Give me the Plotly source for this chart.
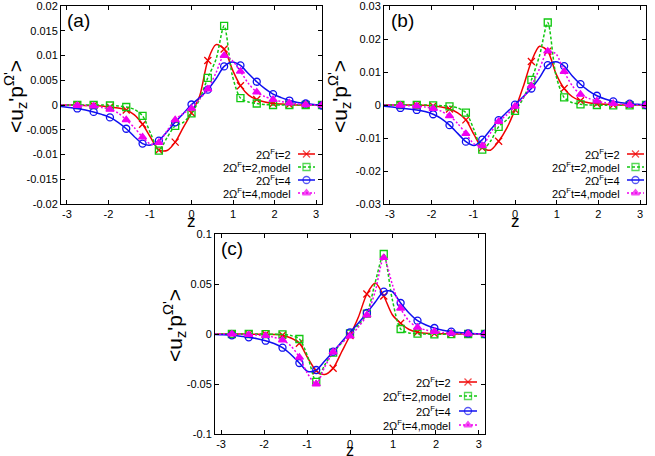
import plotly.graph_objects as go

# z sample grid (k*pi/16, k=-16..16); markers are drawn every other sample from -7pi/8
z_grid = [-3.1416, -2.9452, -2.7489, -2.5525, -2.3562, -2.1598, -1.9635, -1.7671,
          -1.5708, -1.3744, -1.1781, -0.9817, -0.7854, -0.5890, -0.3927, -0.1963,
          0.0,
          0.1963, 0.3927, 0.5890, 0.7854, 0.9817, 1.1781, 1.3744, 1.5708,
          1.7671, 1.9635, 2.1598, 2.3562, 2.5525, 2.7489, 2.9452, 3.1416]

series_names = ["2Ω<sup>F</sup>t=2", "2Ω<sup>F</sup>t=2,model",
                "2Ω<sup>F</sup>t=4", "2Ω<sup>F</sup>t=4,model"]

# ---- panel (a)
a_t2 = [0.0, 0.0, 0.0, -0.0001, -0.0001, -0.0002, -0.0004, -0.0006,
        -0.0010, -0.0020, -0.0039, -0.0066, -0.0091, -0.0092, -0.0075, -0.0045,
        -0.0016,
        0.0018, 0.0090, 0.0122, 0.0113, 0.0072, 0.0039, 0.0020, 0.0011,
        0.0006, 0.0003, 0.0002, 0.0001, 0.0, 0.0, 0.0, 0.0]
a_t2m = [0.0, 0.0, 0.0, 0.0, 0.0, 0.0, -0.0001, -0.0002,
         -0.0004, -0.0009, -0.0022, -0.0058, -0.0092, -0.0066, -0.0042, -0.0035,
         -0.0017,
         0.0012, 0.0055, 0.0092, 0.0160, 0.0060, 0.0014, 0.0006, 0.0003,
         0.0001, 0.0, 0.0, 0.0, 0.0, 0.0, 0.0, 0.0]
a_t4 = [-0.0003, -0.0005, -0.0007, -0.0010, -0.0014, -0.0019, -0.0025, -0.0035,
        -0.0048, -0.0064, -0.0078, -0.0081, -0.0072, -0.0054, -0.0035, -0.0017,
        0.0001,
        0.0015, 0.0031, 0.0053, 0.0078, 0.0087, 0.0080, 0.0063, 0.0047,
        0.0033, 0.0022, 0.0015, 0.0009, 0.0005, 0.0003, 0.0001, -0.0001]
a_t4m = [0.0, 0.0, -0.0001, -0.0001, -0.0002, -0.0005, -0.0009, -0.0016,
         -0.0030, -0.0046, -0.0065, -0.0079, -0.0076, -0.0052, -0.0030, -0.0017,
         -0.0007,
         0.0012, 0.0032, 0.0065, 0.0100, 0.0090, 0.0068, 0.0043, 0.0026,
         0.0017, 0.0011, 0.0007, 0.0004, 0.0002, 0.0001, 0.0, 0.0]

# ---- panel (b)
b_t2 = [0.0, 0.0, 0.0, 0.0, -0.0001, -0.0001, -0.0003, -0.0006,
        -0.0012, -0.0024, -0.0045, -0.0090, -0.0130, -0.0137, -0.0110, -0.0070,
        -0.0014,
        0.0055, 0.0132, 0.0178, 0.0163, 0.0095, 0.0050, 0.0025, 0.0013,
        0.0007, 0.0004, 0.0002, 0.0001, 0.0, 0.0, 0.0, 0.0]
b_t2m = [0.0, 0.0, 0.0, 0.0, 0.0, 0.0, -0.0001, -0.0002,
         -0.0004, -0.0009, -0.0023, -0.0075, -0.0135, -0.0110, -0.0066, -0.0045,
         -0.0018,
         0.0020, 0.0076, 0.0150, 0.0250, 0.0090, 0.0023, 0.0007, 0.0002,
         0.0, 0.0, -0.0001, -0.0001, -0.0001, -0.0001, 0.0, 0.0]
b_t4 = [-0.0004, -0.0006, -0.0009, -0.0012, -0.0015, -0.0020, -0.0028, -0.0041,
        -0.0061, -0.0086, -0.0111, -0.0123, -0.0105, -0.0075, -0.0046, -0.0022,
        0.0001,
        0.0025, 0.0050, 0.0083, 0.0121, 0.0131, 0.0118, 0.0088, 0.0063,
        0.0043, 0.0028, 0.0018, 0.0011, 0.0007, 0.0004, 0.0002, 0.0]
b_t4m = [0.0, 0.0, -0.0001, -0.0002, -0.0003, -0.0006, -0.0011, -0.0019,
         -0.0033, -0.0056, -0.0087, -0.0118, -0.0124, -0.0085, -0.0050, -0.0030,
         -0.0004,
         0.0022, 0.0058, 0.0110, 0.0163, 0.0155, 0.0101, 0.0058, 0.0032,
         0.0020, 0.0012, 0.0007, 0.0004, 0.0002, 0.0001, 0.0, 0.0]

# ---- panel (c)
c_t2 = [0.0, 0.0, 0.0, 0.0, -0.0001, -0.0002, -0.0003, -0.0005,
        -0.0012, -0.0040, -0.0093, -0.0240, -0.0367, -0.0405, -0.0343, -0.0180,
        -0.0015,
        0.0170, 0.0400, 0.0510, 0.0380, 0.0195, 0.0107, 0.0045, 0.0017,
        0.0008, 0.0004, 0.0002, 0.0001, 0.0, 0.0, 0.0, 0.0]
c_t2m = [0.0, 0.0, 0.0, 0.0, 0.0, 0.0, -0.0001, -0.0002,
         -0.0004, -0.0015, -0.0050, -0.0230, -0.0478, -0.0310, -0.0187, -0.0090,
         0.0005,
         0.0090, 0.0203, 0.0520, 0.0800, 0.0350, 0.0050, 0.0010, 0.0003,
         0.0, -0.0003, -0.0003, -0.0002, -0.0001, 0.0, 0.0, 0.0]
c_t4 = [-0.0005, -0.0008, -0.0013, -0.0022, -0.0033, -0.0047, -0.0067, -0.0095,
        -0.0137, -0.0205, -0.0290, -0.0375, -0.0360, -0.0270, -0.0177, -0.0080,
        0.0017,
        0.0110, 0.0210, 0.0320, 0.0423, 0.0425, 0.0310, 0.0210, 0.0133,
        0.0090, 0.0060, 0.0038, 0.0023, 0.0014, 0.0007, 0.0003, 0.0]
c_t4m = [0.0, 0.0, 0.0, -0.0003, -0.0007, -0.0011, -0.0017, -0.0033,
         -0.0060, -0.0120, -0.0233, -0.0400, -0.0500, -0.0330, -0.0180, -0.0090,
         -0.0020,
         0.0070, 0.0190, 0.0430, 0.0763, 0.0500, 0.0257, 0.0130, 0.0067,
         0.0040, 0.0025, 0.0015, 0.0008, 0.0004, 0.0002, 0.0001, 0.0]

x_tick_vals = [-3, -2, -1, 0, 1, 2, 3]
x_tick_text = ["-3", "-2", "-1", "0", "1", "2", "3"]
a_tick_vals = [-0.02, -0.015, -0.01, -0.005, 0, 0.005, 0.01, 0.015, 0.02]
a_tick_text = ["-0.02", "-0.015", "-0.01", "-0.005", "0", "0.005", "0.01", "0.015", "0.02"]
b_tick_vals = [-0.03, -0.02, -0.01, 0, 0.01, 0.02, 0.03]
b_tick_text = ["-0.03", "-0.02", "-0.01", "0", "0.01", "0.02", "0.03"]
c_tick_vals = [-0.1, -0.05, 0, 0.05, 0.1]
c_tick_text = ["-0.1", "-0.05", "0", "0.05", "0.1"]

W, H = 655, 456
FONT = "Liberation Sans, Arial, sans-serif"
Y_TITLE = "&lt;u<sub>z</sub>'p<sup>Ω'</sup>&gt;"

styles = [
    dict(color="#f00000", dash="solid", symbol="x-thin-open", msize=7),
    dict(color="#10c810", dash="3px,2px", symbol="square-open", msize=7),
    dict(color="#1010f0", dash="solid", symbol="circle-open", msize=7),
    dict(color="#f000f0", dash="2px,2px", symbol="triangle-up", msize=7),
]

# layout (pixel) geometry of each panel, its key and its labels
panels = [
    dict(key="", ys=[a_t2, a_t2m, a_t4, a_t4m], px=(61, 322), py=(6, 204),
         tv=a_tick_vals, tt=a_tick_text, yr=(-0.02, 0.02), label="(a)", lab=(65, 8),
         ytitle=(15, 97), xtitle_y=221, xfont=17,
         key_text_x=293, key_line=(298, 315), key_rows=[154, 167, 180, 193]),
    dict(key="2", ys=[b_t2, b_t2m, b_t4, b_t4m], px=(384, 646), py=(6, 204),
         tv=b_tick_vals, tt=b_tick_text, yr=(-0.03, 0.03), label="(b)", lab=(389, 8),
         ytitle=(339, 97), xtitle_y=221, xfont=17,
         key_text_x=622, key_line=(627, 644), key_rows=[154, 167, 180, 193]),
    dict(key="3", ys=[c_t2, c_t2m, c_t4, c_t4m], px=(215, 485), py=(234, 434),
         tv=c_tick_vals, tt=c_tick_text, yr=(-0.1, 0.1), label="(c)", lab=(219, 236),
         ytitle=(174, 326), xtitle_y=450, xfont=16,
         key_text_x=453, key_line=(459, 477), key_rows=[382, 396, 411, 425]),
]

fig = go.Figure()
layout = dict(width=W, height=H, margin=dict(l=0, r=0, t=0, b=0),
              paper_bgcolor="white", plot_bgcolor="rgba(0,0,0,0)", showlegend=False,
              font=dict(family=FONT, size=11, color="black"), annotations=[])

# hidden full-page pixel axes used only for the key samples
layout["xaxis9"] = dict(domain=[0, 1], range=[0, W], visible=False, anchor="y9", fixedrange=True)
layout["yaxis9"] = dict(domain=[0, 1], range=[H, 0], visible=False, anchor="x9", fixedrange=True)

for p in panels:
    xa = "x" + p["key"]
    ya = "y" + p["key"]
    for ys, st, name, row in zip(p["ys"], styles, series_names, p["key_rows"]):
        fig.add_trace(go.Scatter(x=z_grid, y=ys, mode="lines", xaxis=xa, yaxis=ya,
                                 line=dict(color=st["color"], width=1.5, dash=st["dash"],
                                           shape="spline", smoothing=0.8),
                                 name=name, hoverinfo="skip"))
        fig.add_trace(go.Scatter(x=z_grid[2::2], y=ys[2::2], mode="markers", xaxis=xa, yaxis=ya,
                                 marker=dict(symbol=st["symbol"], size=st["msize"], color=st["color"],
                                             line=dict(color=st["color"], width=1.3)),
                                 name=name))
        # key sample: short line with one marker in its middle
        k0, k1 = p["key_line"]
        fig.add_trace(go.Scatter(x=[k0, (k0 + k1) / 2, k1], y=[row, row, row],
                                 mode="lines+markers", xaxis="x9", yaxis="y9",
                                 line=dict(color=st["color"], width=1.5, dash=st["dash"]),
                                 marker=dict(symbol=st["symbol"], size=[0, st["msize"], 0],
                                             color=st["color"],
                                             line=dict(color=st["color"], width=1.3)),
                                 hoverinfo="skip"))
        layout["annotations"].append(dict(text=name, x=p["key_text_x"] / W, y=1 - row / H,
                                          xref="paper", yref="paper", xanchor="right",
                                          yanchor="middle", showarrow=False,
                                          font=dict(size=11)))
    x0, x1 = p["px"]
    y0, y1 = p["py"]
    axcommon = dict(showline=True, linecolor="black", linewidth=1, mirror="ticks",
                    ticks="inside", ticklen=4, tickcolor="black", showgrid=False,
                    zeroline=False, tickfont=dict(size=11), automargin=False,
                    ticklabeloverflow="allow", fixedrange=True)
    layout["xaxis" + p["key"]] = dict(domain=[x0 / W, x1 / W], anchor=ya,
                                      range=[-3.1416, 3.1416], tickvals=x_tick_vals,
                                      ticktext=x_tick_text, **axcommon)
    layout["yaxis" + p["key"]] = dict(domain=[1 - y1 / H, 1 - y0 / H], anchor=xa,
                                      range=list(p["yr"]), tickvals=p["tv"], ticktext=p["tt"],
                                      **axcommon)
    # panel label
    layout["annotations"].append(dict(text=p["label"], x=p["lab"][0] / W, y=1 - p["lab"][1] / H,
                                      xref="paper", yref="paper", xanchor="left", yanchor="top",
                                      showarrow=False, font=dict(size=19)))
    # axis titles
    layout["annotations"].append(dict(text="z", x=(x0 + x1) / 2 / W, y=1 - p["xtitle_y"] / H,
                                      xref="paper", yref="paper", xanchor="center",
                                      yanchor="middle", showarrow=False,
                                      font=dict(size=p["xfont"])))
    layout["annotations"].append(dict(text=Y_TITLE, x=p["ytitle"][0] / W, y=1 - p["ytitle"][1] / H,
                                      xref="paper", yref="paper", xanchor="center",
                                      yanchor="middle", textangle=-90, showarrow=False,
                                      font=dict(size=21)))

fig.update_layout(**layout)
fig.write_html("out.html", post_script="document.body.style.margin='0px';",
               config=dict(displayModeBar=False, staticPlot=True))
